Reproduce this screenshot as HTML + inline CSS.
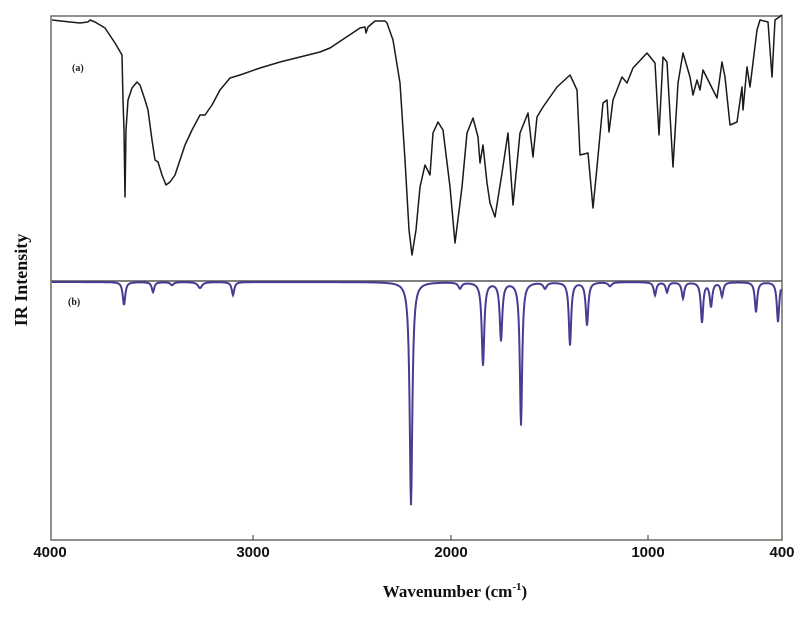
<!DOCTYPE html>
<html><head><style>
body{margin:0;background:#fff;}
svg{display:block;}
</style></head><body>
<svg id="s" width="801" height="620" xmlns="http://www.w3.org/2000/svg">
<rect x="51" y="16" width="731" height="524" fill="none" stroke="#6b6b60" stroke-width="1.5"/>
<line x1="51" y1="281" x2="782" y2="281" stroke="#555" stroke-width="1.5"/>
<g stroke="#555" stroke-width="1.2">
<line x1="253" y1="540" x2="253" y2="535"/><line x1="451" y1="540" x2="451" y2="535"/><line x1="648" y1="540" x2="648" y2="535"/>
</g>
<polyline fill="none" stroke="#1a1a1a" stroke-width="1.5" stroke-linejoin="round" points="52,20 70,22 80,23 88,22 90,20 95,22 105,28 115,43 122,55 123,100 124,130 125,197 126,130 128,100 132,88 137,82 140,85 145,100 148,110 152,140 155,160 158,162 162,175 166,185 170,182 175,175 180,160 185,145 192,130 200,115 205,115 212,105 220,90 230,78 240,75 260,68 280,62 300,57 320,52 330,48 345,38 360,28 365,27 366,33 368,27 375,21 385,21 387,23 393,40 400,83 405,160 409,230 412,255 416,230 420,187 425,165 430,175 433,133 438,122 443,130 450,187 455,243 462,187 467,133 473,118 478,137 480,163 483,145 487,183 490,203 495,217 502,173 508,133 513,205 520,133 528,113 533,157 537,117 543,107 550,97 557,87 570,75 577,90 580,155 588,153 593,208 597,167 603,103 607,100 609,132 613,100 622,77 627,83 633,68 647,53 655,63 659,135 663,57 667,62 673,167 678,83 683,53 690,77 693,95 697,80 700,90 703,70 708,80 717,98 722,62 725,77 730,125 737,122 742,87 743,110 747,67 750,87 757,30 760,20 768,22 772,77 775,20 782,15"/>
<path id="b" fill="none" stroke="#4a3a92" stroke-width="2"/>
<text x="72" y="71" font-family="Liberation Serif,serif" font-weight="bold" font-size="10" fill="#222">(a)</text>
<text x="68" y="305" font-family="Liberation Serif,serif" font-weight="bold" font-size="10" fill="#222">(b)</text>
<g font-family="Liberation Sans,sans-serif" font-weight="bold" font-size="15" fill="#111" text-anchor="middle">
<text x="50" y="557">4000</text><text x="253" y="557">3000</text><text x="451" y="557">2000</text><text x="648" y="557">1000</text><text x="782" y="557">400</text>
</g>
<text x="455" y="597" text-anchor="middle" font-family="Liberation Serif,serif" font-weight="bold" font-size="17" fill="#111">Wavenumber (cm<tspan dy="-7" font-size="11">-1</tspan><tspan dy="7">)</tspan></text>
<text transform="translate(27,280) rotate(-90)" text-anchor="middle" font-family="Liberation Serif,serif" font-weight="bold" font-size="18" fill="#111">IR Intensity</text>
</svg>
<script>
var pk=[[124,23,1.5],[153,10,1.5],[172,3,2],[200,6,2.5],[233,13,1.5],[411,223,1.6],[460,6,2],[483,83,1.5],[501,58,1.5],[521,143,1.4],[545,6,2],[570,63,1.4],[587,43,1.5],[610,4,2],[655,13,1.5],[667,10,1.5],[683,16,1.5],[702,40,1.4],[711,24,1.5],[722,14,1.5],[756,30,1.4],[778,40,1.4]];
var d="";
for(var x=52;x<=781;x+=0.5){var y=282;for(var i=0;i<pk.length;i++){var p=pk[i],t=(x-p[0])/p[2];y+=p[1]/(1+t*t);}d+=(x==52?"M":"L")+x+","+y.toFixed(1);}
document.getElementById("b").setAttribute("d",d);
</script>
</body></html>
